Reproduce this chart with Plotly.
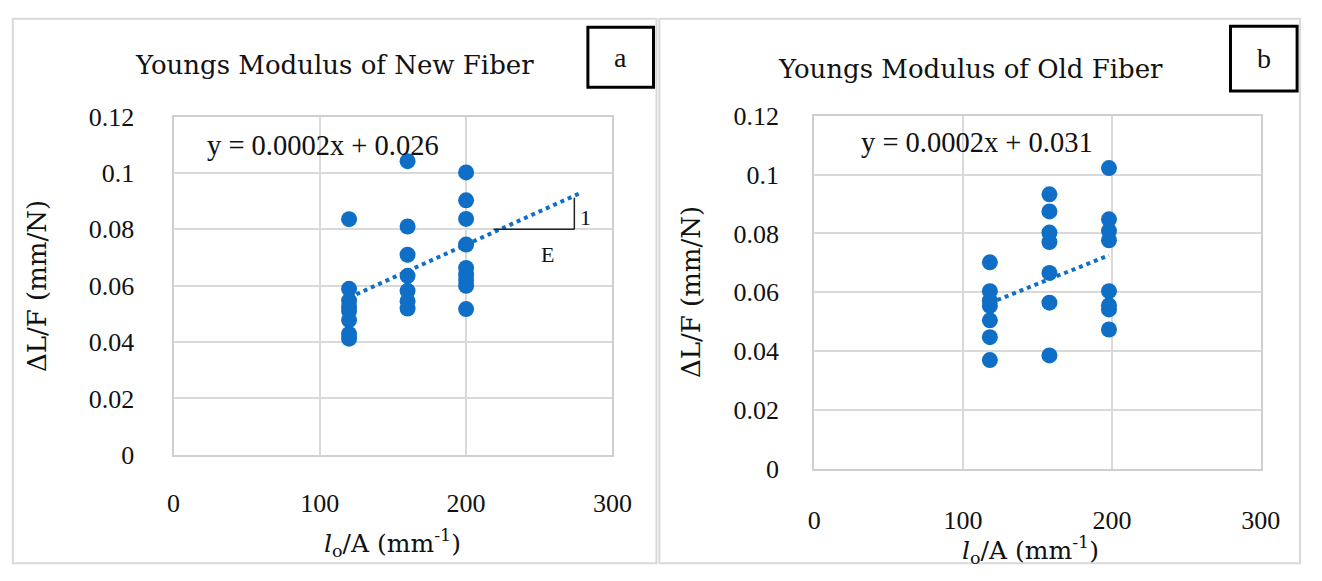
import plotly.graph_objects as go

# ---------------- data ----------------
new_x = [120]*8 + [160]*7 + [200]*9
new_y = [0.0836, 0.0589, 0.0547, 0.0525, 0.0510, 0.0478, 0.0429, 0.0412,
         0.1042, 0.0810, 0.0710, 0.0635, 0.0582, 0.0545, 0.0519,
         0.1002, 0.0903, 0.0837, 0.0746, 0.0663, 0.0639, 0.0620, 0.0600, 0.0517]
new_trend_x = [120, 279]
new_trend_y = [0.0558, 0.0931]

old_x = [118]*7 + [158]*7 + [198]*8
old_y = [0.0702, 0.0604, 0.0572, 0.0554, 0.0505, 0.0448, 0.0370,
         0.0933, 0.0875, 0.0803, 0.0771, 0.0666, 0.0565, 0.0386,
         0.1022, 0.0848, 0.0809, 0.0777, 0.0604, 0.0556, 0.0542, 0.0474]
old_trend_x = [118, 198]
old_trend_y = [0.0564, 0.0726]

x_ticks = [0, 100, 200, 300]
x_ticktext = ["0", "100", "200", "300"]
y_ticks = [0, 0.02, 0.04, 0.06, 0.08, 0.1, 0.12]
y_ticktext = ["0", "0.02", "0.04", "0.06", "0.08", "0.1", "0.12"]

titles = ["Youngs Modulus of New Fiber", "Youngs Modulus of Old Fiber"]
equations = ["y = 0.0002x + 0.026", "y = 0.0002x + 0.031"]
panel_labels = ["a", "b"]
y_title = "ΔL/F (mm/N)"
x_title = "<i>l</i><sub>o</sub>/A (mm<sup>-1</sup>)"

# ---------------- layout helpers ----------------
W, H = 1322, 581
def px(x):
    return x / W
def py(y):
    return 1 - y / H

BLUE = "#0F6FC6"
GRID = "#d9d9d9"
SERIF = "Liberation Serif"
SERIF2 = "DejaVu Serif"
TXT = "#111"

fig = go.Figure()

fig.add_trace(go.Scatter(x=new_x, y=new_y, mode="markers", xaxis="x", yaxis="y",
                         marker=dict(color=BLUE, size=16), showlegend=False))
fig.add_trace(go.Scatter(x=new_trend_x, y=new_trend_y, mode="lines", xaxis="x", yaxis="y",
                         line=dict(color=BLUE, width=4, dash="dot"), showlegend=False))
fig.add_trace(go.Scatter(x=old_x, y=old_y, mode="markers", xaxis="x2", yaxis="y2",
                         marker=dict(color=BLUE, size=16), showlegend=False))
fig.add_trace(go.Scatter(x=old_trend_x, y=old_trend_y, mode="lines", xaxis="x2", yaxis="y2",
                         line=dict(color=BLUE, width=4, dash="dot"), showlegend=False))

def xaxis(domain, anchor, standoff):
    return dict(domain=domain, anchor=anchor, range=[0, 300], tickvals=x_ticks, ticktext=x_ticktext,
                showgrid=True, gridcolor=GRID, gridwidth=2, zeroline=False,
                showline=True, mirror=True, linecolor="#cfcfcf", linewidth=2,
                ticks="", ticklabelstandoff=standoff,
                tickfont=dict(family=SERIF, size=26, color=TXT), fixedrange=True)

def yaxis(domain, anchor, standoff):
    return dict(domain=domain, anchor=anchor, range=[0, 0.12], tickvals=y_ticks, ticktext=y_ticktext,
                showgrid=True, gridcolor=GRID, gridwidth=2, zeroline=False,
                showline=True, mirror=True, linecolor="#cfcfcf", linewidth=2,
                ticks="", ticklabelstandoff=standoff,
                tickfont=dict(family=SERIF, size=26, color=TXT), fixedrange=True)

# plot areas (pixel positions of axes)
A = dict(l=170, r=618, t=108, b=464)
B = dict(l=824, r=1280, t=107, b=479)

annotations = []
shapes = []

for pl in [(6, 663), (666, 1320)]:
    shapes.append(dict(type="rect", xref="paper", yref="paper", x0=px(pl[0]), x1=px(pl[1]),
                       y0=py(578), y1=py(5), line=dict(color=GRID, width=2), layer="below"))

# panel titles
for t, (cx, cy) in zip(titles, [(334, 54), (984, 58)]):
    annotations.append(dict(text=t, x=px(cx), y=py(cy), xref="paper", yref="paper",
                            showarrow=False, font=dict(family=SERIF2, size=26, color=TXT),
                            xanchor="center", yanchor="middle"))

# letter boxes
for (x0, x1, y0, y1), lab in zip([(593, 660, 14, 77), (1249, 1317, 13, 81)], panel_labels):
    shapes.append(dict(type="rect", xref="paper", yref="paper", x0=px(x0), x1=px(x1),
                       y0=py(y1), y1=py(y0), line=dict(color="black", width=3)))
    annotations.append(dict(text=lab, x=px((x0 + x1) / 2), y=py((y0 + y1) / 2), xref="paper", yref="paper",
                            showarrow=False, font=dict(family=SERIF, size=28, color=TXT),
                            xanchor="center", yanchor="middle"))

# axis titles
for (cx, cy) in [(30, 286), (699, 293)]:
    annotations.append(dict(text=y_title, x=px(cx), y=py(cy), xref="paper", yref="paper", textangle=-90,
                            showarrow=False, font=dict(family=SERIF2, size=26, color=TXT),
                            xanchor="center", yanchor="middle"))
for (cx, cy) in [(394, 557), (1045, 564)]:
    annotations.append(dict(text=x_title, x=px(cx), y=py(cy), xref="paper", yref="paper",
                            showarrow=False, font=dict(family=SERIF2, size=25, color=TXT),
                            xanchor="center", yanchor="middle"))

# equations
annotations.append(dict(text=equations[0], x=102, y=0.1098, xref="x", yref="y", showarrow=False,
                        font=dict(family=SERIF, size=28.5, color=TXT), xanchor="center", yanchor="middle"))
annotations.append(dict(text=equations[1], x=109.5, y=0.111, xref="x2", yref="y2", showarrow=False,
                        font=dict(family=SERIF, size=28.5, color=TXT), xanchor="center", yanchor="middle"))

# slope triangle on panel a
shapes.append(dict(type="line", xref="x", yref="y", x0=218.7, x1=274, y0=0.08, y1=0.08,
                   line=dict(color="#222", width=1.5)))
shapes.append(dict(type="line", xref="x", yref="y", x0=274, x1=274, y0=0.08, y1=0.0912,
                   line=dict(color="#222", width=1.5)))
annotations.append(dict(text="1", x=281.7, y=0.0843, xref="x", yref="y", showarrow=False,
                        font=dict(family=SERIF, size=22, color=TXT), xanchor="center", yanchor="middle"))
annotations.append(dict(text="E", x=255.5, y=0.0712, xref="x", yref="y", showarrow=False,
                        font=dict(family=SERIF, size=22, color=TXT), xanchor="center", yanchor="middle"))

fig.update_layout(
    width=W, height=H, margin=dict(l=0, r=0, t=0, b=0),
    paper_bgcolor="white", plot_bgcolor="white",
    xaxis=xaxis([px(A["l"]), px(A["r"])], "y", 24),
    yaxis=yaxis([py(A["b"]), py(A["t"])], "x", 32),
    xaxis2=xaxis([px(B["l"]), px(B["r"])], "y2", 27),
    yaxis2=yaxis([py(B["b"]), py(B["t"])], "x2", 28),
    shapes=shapes, annotations=annotations, showlegend=False,
)

fig.write_html("out.html",
               post_script="document.body.style.margin='0';document.body.style.padding='0';"
                           "document.documentElement.style.overflow='hidden';")
